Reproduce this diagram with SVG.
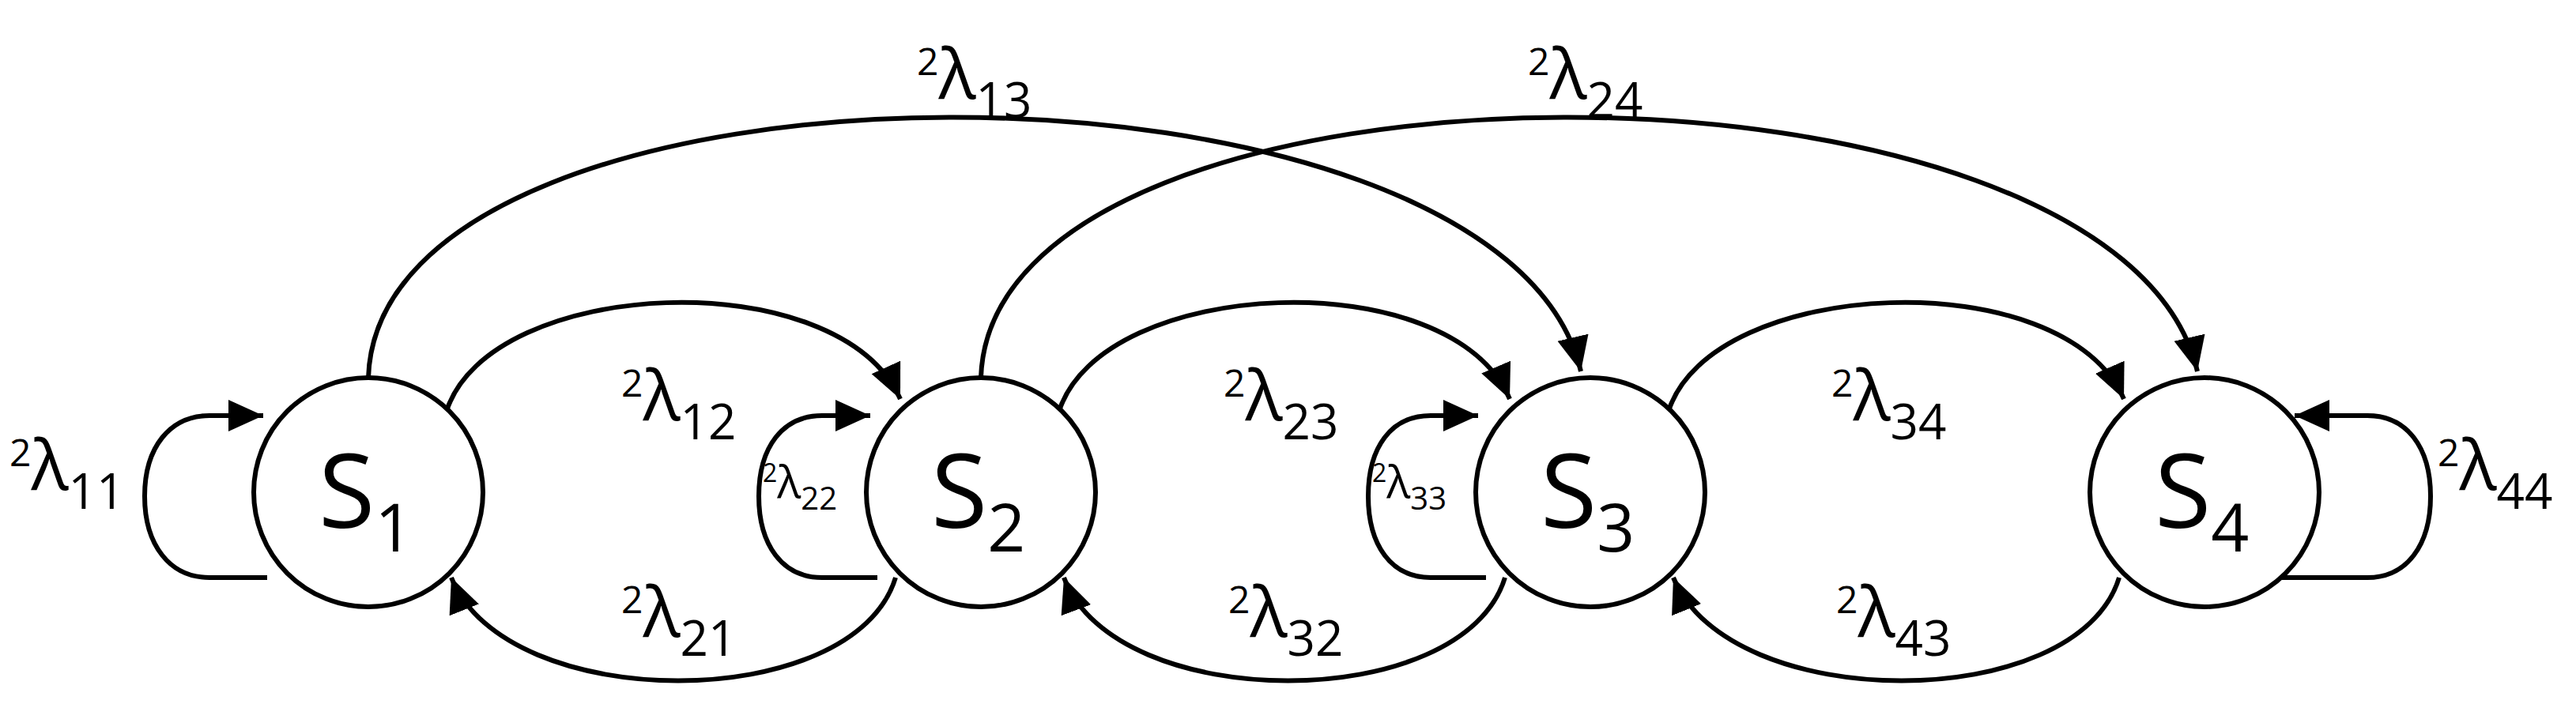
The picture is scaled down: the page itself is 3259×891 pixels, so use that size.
<svg xmlns="http://www.w3.org/2000/svg" width="3259" height="891" viewBox="0 0 3259 891">
<style>
.n{fill:#fff;stroke:#000;stroke-width:6}
.c{fill:none;stroke:#000;stroke-width:6;marker-end:url(#a)}
text{font-family:"Open Sans","Liberation Sans",sans-serif;fill:#000}
.l{font-size:88px}.s{font-size:62px}.p{font-size:48px}
.ls{font-size:56px}.ss{font-size:40px}.ps{font-size:32px}
.S{font-size:130px}.Ss{font-size:84px}
</style>
<defs><marker id="a" markerUnits="userSpaceOnUse" markerWidth="48" markerHeight="44" refX="44" refY="20" orient="auto"><path d="M0,0 L44,20 L0,40 Z" fill="#000"/></marker></defs>
<rect width="3259" height="891" fill="#fff"/>
<g id="connectors">
<path class="c" d="M565,520 C620,350 1060,330 1139,505"/>
<path class="c" d="M1340,520 C1395,350 1835,330 1910,505"/>
<path class="c" d="M2111,520 C2166,350 2610,330 2687,505"/>
<path class="c" d="M1133,731 C1080,905 640,905 571,731"/>
<path class="c" d="M1904,731 C1851,905 1411,905 1346,731"/>
<path class="c" d="M2681,731 C2628,905 2188,905 2117,731"/>
<path class="c" d="M466,478 C480,40 1900,40 2000,470"/>
<path class="c" d="M1241,478 C1255,40 2680,40 2780,470"/>
<path class="c" d="M338,731 L265,731 C215,731 183,690 183,628 C183,566 215,526 265,526 L333,526"/>
<path class="c" d="M1110,731 L1040,731 C990,731 960,690 960,628 C960,566 990,526 1040,526 L1101,526"/>
<path class="c" d="M1880,731 L1810,731 C1760,731 1731,690 1731,628 C1731,566 1760,526 1810,526 L1870,526"/>
<path class="c" d="M2830,731 L2995,731 C3045,731 3075,690 3075,628 C3075,566 3045,526 2995,526 L2903,526"/>
</g>
<g id="S1"><circle class="n" cx="466" cy="623" r="145"/><text x="403" y="668" class="S">S<tspan class="Ss" dy="30">1</tspan></text></g>
<g id="S2"><circle class="n" cx="1241" cy="623" r="145"/><text x="1178" y="668" class="S">S<tspan class="Ss" dy="30">2</tspan></text></g>
<g id="S3"><circle class="n" cx="2012" cy="623" r="145"/><text x="1949" y="668" class="S">S<tspan class="Ss" dy="30">3</tspan></text></g>
<g id="S4"><circle class="n" cx="2789" cy="623" r="145"/><text x="2726" y="668" class="S">S<tspan class="Ss" dy="30">4</tspan></text></g>
<g id="labels">
<text x="1160" y="125"><tspan class="p" dy="-30">2</tspan><tspan class="l" dy="30">λ</tspan><tspan class="s" dy="24">13</tspan></text>
<text x="1933" y="125"><tspan class="p" dy="-30">2</tspan><tspan class="l" dy="30">λ</tspan><tspan class="s" dy="24">24</tspan></text>
<text x="786" y="532"><tspan class="p" dy="-30">2</tspan><tspan class="l" dy="30">λ</tspan><tspan class="s" dy="24">12</tspan></text>
<text x="1548" y="532"><tspan class="p" dy="-30">2</tspan><tspan class="l" dy="30">λ</tspan><tspan class="s" dy="24">23</tspan></text>
<text x="2317" y="532"><tspan class="p" dy="-30">2</tspan><tspan class="l" dy="30">λ</tspan><tspan class="s" dy="24">34</tspan></text>
<text x="786" y="806"><tspan class="p" dy="-30">2</tspan><tspan class="l" dy="30">λ</tspan><tspan class="s" dy="24">21</tspan></text>
<text x="1554" y="806"><tspan class="p" dy="-30">2</tspan><tspan class="l" dy="30">λ</tspan><tspan class="s" dy="24">32</tspan></text>
<text x="2323" y="806"><tspan class="p" dy="-30">2</tspan><tspan class="l" dy="30">λ</tspan><tspan class="s" dy="24">43</tspan></text>
<text x="12" y="620"><tspan class="p" dy="-30">2</tspan><tspan class="l" dy="30">λ</tspan><tspan class="s" dy="24">11</tspan></text>
<text x="3084" y="620"><tspan class="p" dy="-30">2</tspan><tspan class="l" dy="30">λ</tspan><tspan class="s" dy="24">44</tspan></text>
<text x="965" y="630"><tspan class="ps" dy="-20">2</tspan><tspan class="ls" dy="20">λ</tspan><tspan class="ss" dy="15">22</tspan></text>
<text x="1736" y="630"><tspan class="ps" dy="-20">2</tspan><tspan class="ls" dy="20">λ</tspan><tspan class="ss" dy="15">33</tspan></text>
</g>
</svg>
